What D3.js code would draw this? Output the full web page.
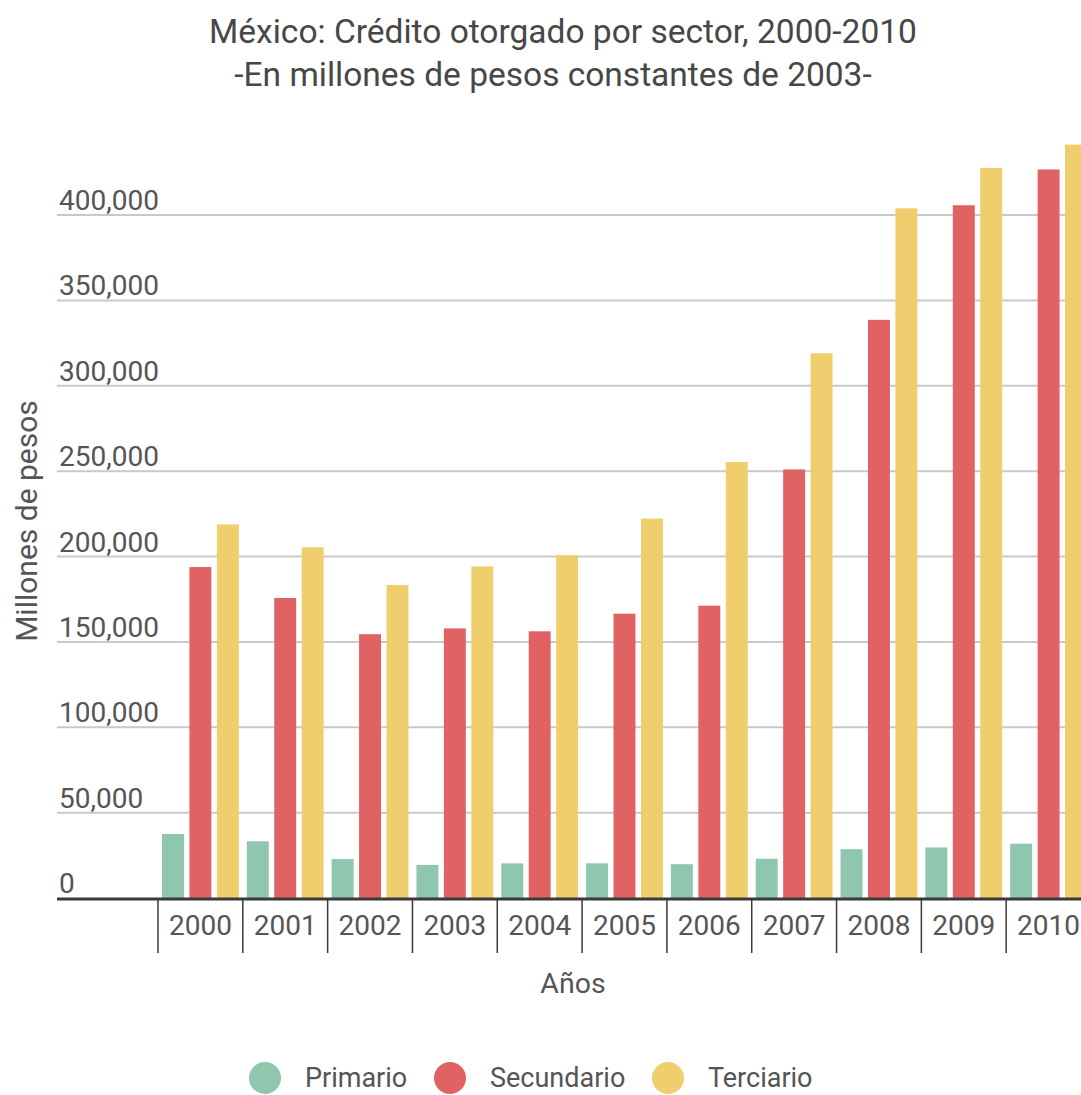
<!DOCTYPE html>
<html>
<head>
<meta charset="utf-8">
<script src="https://cdn.jsdelivr.net/npm/d3@7"></script>
<style>
  html, body { margin: 0; padding: 0; background: #fff; }
  svg { display: block; font-family: Roboto, "Noto Sans", sans-serif; }
</style>
</head>
<body>
<svg id="chart" width="1081" height="1095"></svg>
<script>
// Crédito otorgado por sector (millones de pesos constantes de 2003)
const years = ["2000", "2001", "2002", "2003", "2004", "2005", "2006", "2007", "2008", "2009", "2010"];
const seriesNames = ["Primario", "Secundario", "Terciario"];
const primario   = [37500, 33200, 22800, 19400, 20300, 20300, 19800, 23000, 28600, 29600, 31800];
const secundario = [193800, 175700, 154500, 157900, 156200, 166500, 171200, 251000, 338600, 405700, 426700];
const terciario  = [218800, 205400, 183300, 194200, 200800, 222200, 255300, 319000, 403900, 427600, 441200];
const yTicks = [0, 50000, 100000, 150000, 200000, 250000, 300000, 350000, 400000];
const colors = ["#8fc7ae", "#e06262", "#f0cd6d"];

const seriesValues = [primario, secundario, terciario];
const rows = years.map((yr, i) => ({
  year: yr,
  values: seriesNames.map((name, s) => ({ name, value: seriesValues[s][i] }))
}));

const svg = d3.select("#chart");
const W = 1081;
const textColor = "#555";

// Scales
const x0 = d3.scaleBand().domain(years).range([158, 1091]).paddingInner(0).paddingOuter(0);
const x1 = d3.scaleBand().domain(seriesNames).range([4, x0.bandwidth() - 4]).paddingInner(0.2);
const y = d3.scaleLinear().domain([0, 400000]).range([898, 215]);
const color = d3.scaleOrdinal().domain(seriesNames).range(colors);
const fmt = d3.format(",");

// Title
svg.append("text")
  .attr("x", 563).attr("y", 43)
  .attr("text-anchor", "middle")
  .attr("font-size", 33.5).attr("fill", "#474747")
  .text("México: Crédito otorgado por sector, 2000-2010");
svg.append("text")
  .attr("x", 553).attr("y", 86)
  .attr("text-anchor", "middle")
  .attr("font-size", 33.5).attr("fill", "#474747")
  .text("-En millones de pesos constantes de 2003-");

// Gridlines + y labels
const grid = svg.append("g");
grid.selectAll("line")
  .data(yTicks.filter(d => d > 0))
  .join("line")
  .attr("x1", 57).attr("x2", W)
  .attr("y1", d => y(d)).attr("y2", d => y(d))
  .attr("stroke", "#c9c9c9").attr("stroke-width", 2);
grid.selectAll("text")
  .data(yTicks)
  .join("text")
  .attr("x", 59).attr("y", d => y(d) - 5)
  .attr("font-size", 28).attr("fill", textColor)
  .text(d => fmt(d));

// Bars
const groups = svg.append("g").selectAll("g")
  .data(rows)
  .join("g")
  .attr("transform", d => `translate(${x0(d.year)},0)`);
groups.selectAll("rect")
  .data(d => d.values)
  .join("rect")
  .attr("x", d => x1(d.name))
  .attr("width", x1.bandwidth())
  .attr("y", d => y(d.value))
  .attr("height", d => y(0) - y(d.value))
  .attr("fill", d => color(d.name));

// X axis: baseline, separators, year labels
svg.append("line")
  .attr("x1", 57).attr("x2", W)
  .attr("y1", y(0) + 1).attr("y2", y(0) + 1)
  .attr("stroke", "#3a3a3a").attr("stroke-width", 3);
svg.append("g").selectAll("line")
  .data(years)
  .join("line")
  .attr("x1", d => x0(d)).attr("x2", d => x0(d))
  .attr("y1", y(0)).attr("y2", 953)
  .attr("stroke", "#3a3a3a").attr("stroke-width", 1.5);
svg.append("g").selectAll("text")
  .data(years)
  .join("text")
  .attr("x", d => x0(d) + x0.bandwidth() / 2)
  .attr("y", 935)
  .attr("text-anchor", "middle")
  .attr("font-size", 28).attr("fill", textColor)
  .text(d => d);

// Axis titles
svg.append("text")
  .attr("x", 573).attr("y", 993)
  .attr("text-anchor", "middle")
  .attr("font-size", 28.5).attr("fill", textColor)
  .text("Años");
svg.append("text")
  .attr("transform", "translate(37,521) rotate(-90)")
  .attr("text-anchor", "middle")
  .attr("font-size", 30).attr("fill", textColor)
  .text("Millones de pesos");

// Legend
const legendX = [265, 450, 668];
const legend = svg.append("g").selectAll("g")
  .data(seriesNames)
  .join("g")
  .attr("transform", (d, i) => `translate(${legendX[i]},1078)`);
legend.append("circle")
  .attr("r", 16)
  .attr("fill", d => color(d));
legend.append("text")
  .attr("x", 40).attr("y", 9)
  .attr("font-size", 27).attr("fill", textColor)
  .text(d => d);
</script>
</body>
</html>
